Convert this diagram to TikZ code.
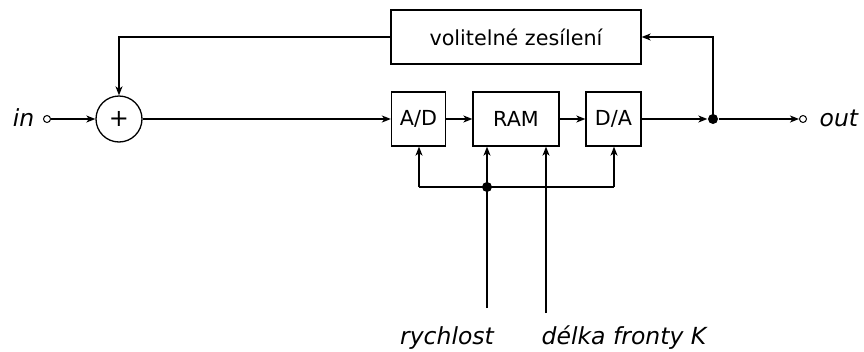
\documentclass[tikz,border=0pt]{standalone}
\usepackage{fontspec}
\setmainfont{DejaVu Sans}
\usetikzlibrary{arrows.meta}
\begin{document}
\begin{tikzpicture}[x=1pt,y=-1pt,
  line width=1.3pt,
  tip/.style={-{Stealth[length=9pt,width=7pt,inset=2.5pt]}},
  blk/.style={draw,rectangle,inner sep=0pt,font=\fontsize{20.7}{24}\selectfont},
  lbl/.style={font=\fontsize{23.5}{26}\selectfont\itshape,inner sep=0pt},
  term/.style={draw,circle,fill=white,minimum size=7pt,inner sep=0pt,line width=1pt},
  dot/.style={circle,fill=black,minimum size=10pt,inner sep=0pt}]
\useasboundingbox (0,0) rectangle (864,351);

% blocks
\node[blk,minimum width=54pt,minimum height=54pt] (ad) at (418.5,119) {A/D};
\node[blk,minimum width=86pt,minimum height=54pt] (ram) at (516,119) {RAM};
\node[blk,minimum width=55pt,minimum height=54pt] (da) at (613.5,119) {D/A};
\node[blk,minimum width=250pt,minimum height=54pt] (gain) at (516,37) {volitelné zesílení};
\node[draw,circle,minimum size=46pt,inner sep=0pt,font=\fontsize{24}{24}\selectfont] (sum) at (119,119) {+};

% terminals and labels
\node[term] (tin) at (47,119) {};
\node[lbl,anchor=east] (lin) at (35,118) {in};
\node[term] (tout) at (803,119) {};
\node[lbl,anchor=west] (lout) at (819,118) {out};
\node[dot] (jo) at (713,119) {};
\node[dot] (jc) at (487,187) {};

\coordinate (ctlL) at (419,187);
\coordinate (ctlR) at (614,187);
\coordinate (spd) at (487,308);
\coordinate (len) at (546,313);
\node[lbl] (lspd) at (447,338) {rychlost};
\node[lbl] (llen) at (624,338) {délka fronty K};

% signal path
\draw[tip] (tin) -- (sum);
\draw[tip] (sum) -- (ad);
\draw[tip] (ad) -- (ram);
\draw[tip] (ram) -- (da);
\draw[tip] (da) -- (jo);
\draw[tip] (jo) -- (tout);

% feedback loop
\draw[tip] (jo.center) |- (gain.east);
\draw[tip] (gain.west) -| (sum.north);

% control lines
\draw (ctlL) -- (ctlR);
\draw[tip] (ctlL) -- (ad.south -| ctlL);
\draw[tip] (ctlR) -- (da.south -| ctlR);
\draw[tip] (spd) -- (ram.south -| spd);
\draw[tip] (len) -- (ram.south -| len);
\end{tikzpicture}
\end{document}
